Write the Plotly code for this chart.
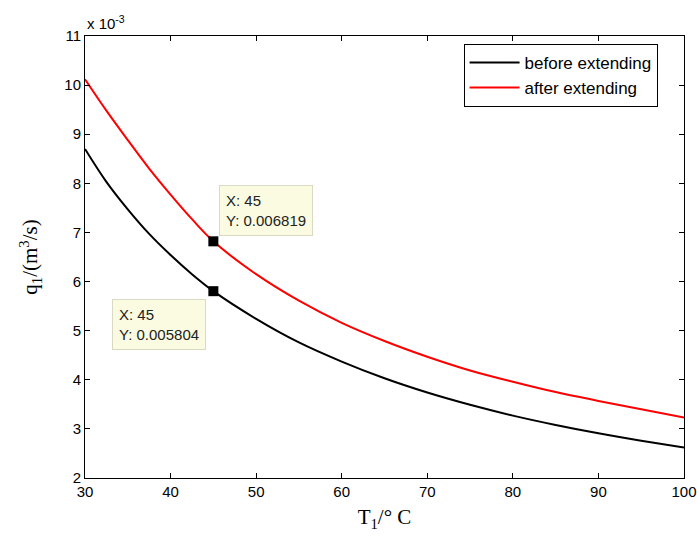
import plotly.graph_objects as go

# Data (flow rate in units of 1e-3 m^3/s)
temperature = [30, 32.5, 35, 37.5, 40, 42.5, 45, 50, 55, 60, 65, 70, 75, 80, 85, 90, 95, 100]
before_extending = [8.70, 8.03, 7.47, 6.97, 6.54, 6.15, 5.804, 5.24, 4.76, 4.37, 4.03,
                    3.74, 3.49, 3.27, 3.08, 2.91, 2.76, 2.62]
after_extending = [10.12, 9.48, 8.88, 8.30, 7.77, 7.27, 6.819, 6.15, 5.61, 5.16, 4.79,
                   4.47, 4.19, 3.96, 3.75, 3.57, 3.40, 3.23]

tip_x = 45
tip_before = 0.005804
tip_after = 0.006819

x_ticks = [30, 40, 50, 60, 70, 80, 90, 100]
y_ticks = [2, 3, 4, 5, 6, 7, 8, 9, 10, 11]

fig = go.Figure()
fig.add_trace(go.Scatter(x=temperature, y=before_extending, mode="lines",
                         name="before extending",
                         line=dict(color="black", width=2, shape="spline")))
fig.add_trace(go.Scatter(x=temperature, y=after_extending, mode="lines",
                         name="after extending",
                         line=dict(color="#ff0000", width=2, shape="spline")))
fig.add_trace(go.Scatter(x=[tip_x, tip_x], y=[tip_before * 1e3, tip_after * 1e3],
                         mode="markers", showlegend=False,
                         marker=dict(symbol="square", size=10, color="black")))

tip_style = dict(showarrow=False, align="left", bgcolor="#fbfbe1",
                 bordercolor="#d9d9c4", borderwidth=1, borderpad=6,
                 font=dict(family="Liberation Sans, Arial", size=15, color="#222"))
fig.add_annotation(x=tip_x, y=tip_after * 1e3, xref="x", yref="y",
                   text=f"X: {tip_x}<br>Y: {tip_after}", xanchor="left",
                   yanchor="bottom", xshift=6, yshift=5, **tip_style)
fig.add_annotation(x=tip_x, y=tip_before * 1e3, xref="x", yref="y",
                   text=f"X: {tip_x}<br>Y: {tip_before}", xanchor="right",
                   yanchor="top", xshift=-7, yshift=-8, **tip_style)

fig.add_annotation(x=0, y=1, xref="paper", yref="paper", xanchor="left",
                   yanchor="bottom", yshift=2, showarrow=False,
                   text="x 10<sup>-3</sup>",
                   font=dict(family="Liberation Sans, Arial", size=15, color="black"))

axis_common = dict(showgrid=False, zeroline=False, showline=True, linecolor="black",
                   linewidth=1, mirror="ticks", ticks="inside", ticklen=5,
                   tickcolor="black", automargin=False,
                   tickfont=dict(family="Liberation Sans, Arial", size=15, color="black"))

fig.update_xaxes(range=[30, 100], tickvals=x_ticks,
                 title=dict(text="T<sub>1</sub>/° C", standoff=10,
                            font=dict(family="Liberation Serif, Times New Roman", size=21, color="black")),
                 **axis_common)
fig.update_yaxes(range=[2, 11], tickvals=y_ticks,
                 title=dict(text="q<sub>1</sub>/(m<sup>3</sup>/s)", standoff=20,
                            font=dict(family="Liberation Serif, Times New Roman", size=21, color="black")),
                 **axis_common)

fig.update_layout(
    width=697, height=540,
    margin=dict(l=85, r=13, t=36, b=62),
    paper_bgcolor="white", plot_bgcolor="white",
    legend=dict(x=0.632, y=0.982, xanchor="left", yanchor="top",
                bgcolor="white", bordercolor="black", borderwidth=1,
                font=dict(family="Liberation Sans, Arial", size=17, color="black"),
                itemwidth=50),
)

fig.write_html(
    "out.html",
    config={"displayModeBar": False},
    post_script="document.body.style.margin='0';document.body.style.overflow='hidden';",
)
